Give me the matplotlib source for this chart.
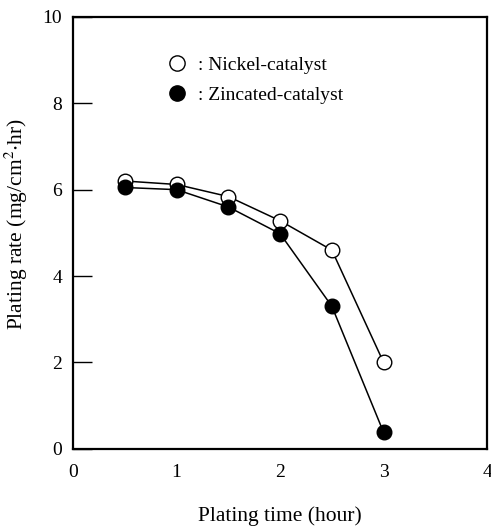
import matplotlib.pyplot as plt
from matplotlib.lines import Line2D

plt.rcParams["font.family"] = ["Liberation Serif", "DejaVu Serif"]
plt.rcParams["mathtext.fontset"] = "stix"

# Data
time_hr = [0.5, 1.0, 1.5, 2.0, 2.5, 3.0]
nickel_rate = [6.2, 6.12, 5.84, 5.28, 4.6, 2.0]
zincated_rate = [6.05, 6.0, 5.6, 4.98, 3.3, 0.38]

fig = plt.figure(figsize=(4.91, 5.28), dpi=100)
ax = fig.add_axes([0.149, 0.150, 0.843, 0.818])

ax.plot(time_hr, nickel_rate, color="black", lw=1.1, marker="o", ms=10.5,
        mfc="white", mec="black", mew=1.0, zorder=3)
ax.plot(time_hr, zincated_rate, color="black", lw=1.1, marker="o", ms=10.5,
        mfc="black", mec="black", zorder=4)

ax.set_xlim(0, 4)
ax.set_ylim(0, 10)
ax.set_xticks([0, 1, 2, 3, 4])
ax.set_yticks([0, 2, 4, 6, 8, 10])
ax.tick_params(axis="y", direction="in", length=14, width=1.0, labelsize=14, pad=8)
ax.tick_params(axis="x", direction="in", length=0, labelsize=14, pad=11)
for s in ax.spines.values():
    s.set_linewidth(1.6)

ax.set_xlabel("Plating time (hour)", fontsize=15.5)
ax.set_ylabel("Plating rate (mg/cm$^2$$\\cdot$hr)", fontsize=15.5)
ax.xaxis.set_label_coords(0.5, -0.157, transform=ax.transAxes)
ax.yaxis.set_label_coords(-0.138, 0.52, transform=ax.transAxes)
ax.xaxis.label.set_verticalalignment("center")
ax.yaxis.label.set_verticalalignment("center")

handles = [
    Line2D([], [], ls="none", marker="o", ms=11, mfc="white", mec="black"),
    Line2D([], [], ls="none", marker="o", ms=11, mfc="black", mec="black"),
]
ax.legend(handles, [": Nickel-catalyst", ": Zincated-catalyst"],
          loc="upper left", bbox_to_anchor=(0.222, 0.908), frameon=False,
          fontsize=14, handletextpad=0.5, labelspacing=0.6, handlelength=1.2,
          borderpad=0, borderaxespad=0)

fig.savefig("out.png", dpi=100)
